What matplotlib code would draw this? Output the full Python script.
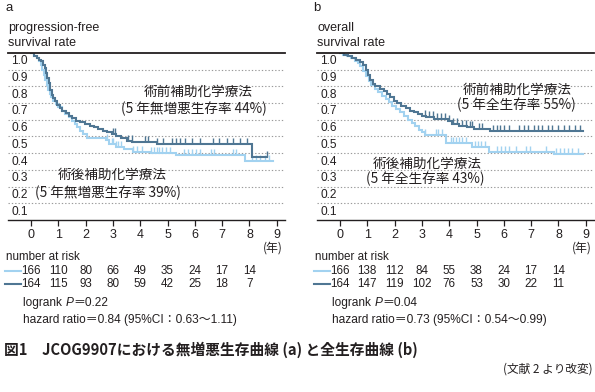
import numpy as np
import matplotlib.pyplot as plt

plt.rcParams["font.family"] = ["Liberation Sans", "Noto Sans CJK JP"]

W, H = 595, 392
LIGHT = "#a2d2f0"
DARK = "#4f7693"
TXT = "#231f20"

years = list(range(10))
ytick_vals = [1.0, 0.9, 0.8, 0.7, 0.6, 0.5, 0.4, 0.3, 0.2, 0.1]

# panel a: progression-free survival
pfs_pre_t = [0, 0.12, 0.22, 0.30, 0.38, 0.45, 0.50, 0.55, 0.60, 0.65, 0.70, 0.76, 0.82,
             0.88, 0.95, 1.05, 1.15, 1.28, 1.40, 1.52, 1.65, 1.80, 1.98, 2.15, 2.30,
             2.47, 2.62, 2.78, 2.95, 3.10, 3.30, 3.50, 3.70, 4.60, 8.08, 8.65]
pfs_pre_s = [1.0, 0.98, 0.97, 0.96, 0.95, 0.93, 0.91, 0.88, 0.85, 0.82, 0.78, 0.75, 0.73,
             0.71, 0.69, 0.67, 0.655, 0.64, 0.625, 0.61, 0.595, 0.585, 0.575, 0.565, 0.555,
             0.545, 0.535, 0.525, 0.515, 0.505, 0.49, 0.475, 0.465, 0.455, 0.38, 0.38]
pfs_pre_cens = [3.02, 3.08, 3.57, 3.69, 4.18, 4.3, 4.6, 4.85, 5.15, 5.3, 5.46, 5.64, 5.88,
                6.19, 6.68, 6.9, 7.17, 7.41, 7.66, 7.9, 8.63]

pfs_post_t = [0, 0.12, 0.22, 0.30, 0.36, 0.42, 0.48, 0.53, 0.58, 0.63, 0.68, 0.75, 0.82,
              0.90, 1.00, 1.12, 1.25, 1.38, 1.50, 1.60, 1.70, 1.80, 1.92, 2.05, 2.75,
              2.85, 3.10, 3.40, 3.75, 4.40, 5.30, 7.83, 8.87]
pfs_post_s = [1.0, 0.98, 0.97, 0.955, 0.93, 0.90, 0.87, 0.84, 0.81, 0.78, 0.755, 0.735,
              0.715, 0.695, 0.675, 0.655, 0.635, 0.615, 0.595, 0.575, 0.555, 0.535, 0.515,
              0.49, 0.48, 0.455, 0.44, 0.425, 0.41, 0.40, 0.39, 0.355, 0.355]
pfs_post_cens = [2.77, 2.95, 3.0, 3.1, 3.2, 3.3, 3.75, 3.9, 4.05, 4.4, 4.5, 4.6, 4.7, 4.8,
                 4.95, 5.1, 5.6, 5.75, 5.9, 6.05, 6.2, 6.6, 6.7, 7.4, 7.5, 8.1, 8.25,
                 8.4, 8.55, 8.7]

# panel b: overall survival
os_pre_t = [0, 0.15, 0.30, 0.45, 0.60, 0.75, 0.85, 0.95, 1.02, 1.10, 1.20, 1.30, 1.45,
            1.60, 1.72, 1.85, 1.98, 2.10, 2.25, 2.40, 2.55, 2.70, 2.85, 3.00, 3.15,
            3.45, 3.95, 4.12, 4.35, 4.65, 4.90, 5.50, 8.88]
os_pre_s = [1.0, 0.99, 0.98, 0.97, 0.96, 0.945, 0.93, 0.90, 0.87, 0.84, 0.815, 0.80,
            0.785, 0.77, 0.755, 0.735, 0.715, 0.70, 0.685, 0.67, 0.655, 0.645, 0.635,
            0.625, 0.615, 0.605, 0.59, 0.575, 0.565, 0.555, 0.545, 0.53, 0.53]
os_pre_cens = [3.1, 3.25, 3.4, 3.55, 3.7, 3.85, 4.0, 4.15, 4.3, 4.45, 4.6, 4.75, 4.85,
               5.1, 5.2, 5.6, 5.75, 5.85, 6.0, 6.2, 6.55, 6.75, 6.9, 7.1, 7.25, 7.4,
               7.6, 7.75, 8.0, 8.2, 8.4, 8.6, 8.8]

os_post_t = [0, 0.10, 0.25, 0.40, 0.55, 0.65, 0.75, 0.85, 0.95, 1.05, 1.15, 1.28, 1.40,
             1.55, 1.68, 1.80, 1.92, 2.05, 2.20, 2.35, 2.50, 2.62, 2.75, 2.88, 3.00,
             3.10, 3.90, 4.85, 5.45, 7.84, 8.90]
os_post_s = [1.0, 0.99, 0.98, 0.97, 0.955, 0.94, 0.92, 0.895, 0.865, 0.835, 0.81, 0.785,
             0.765, 0.745, 0.725, 0.705, 0.685, 0.665, 0.645, 0.625, 0.60, 0.58, 0.56,
             0.54, 0.525, 0.51, 0.46, 0.44, 0.41, 0.395, 0.395]
os_post_cens = [3.12, 3.5, 3.6, 3.75, 4.05, 4.15, 4.25, 4.35, 4.45, 4.6, 4.95, 5.05,
                5.15, 5.3, 5.75, 5.9, 6.05, 6.2, 6.45, 6.8, 6.95, 7.55, 7.9, 8.05, 8.2,
                8.35, 8.5, 8.7]

pfs_risk_post = [166, 110, 80, 66, 49, 35, 24, 17, 14]
pfs_risk_pre = [164, 115, 93, 80, 59, 42, 25, 18, 7]
os_risk_post = [166, 138, 112, 84, 55, 38, 24, 17, 14]
os_risk_pre = [164, 147, 119, 102, 76, 53, 30, 22, 11]


def px(x, y):
    return x / W, 1 - y / H


def km(ax, t, s, cens, color):
    ax.plot(t, s, drawstyle="steps-post", color=color, lw=1.5, solid_joinstyle="miter")
    idx = np.searchsorted(t, cens, side="right") - 1
    ax.plot(cens, np.array(s)[idx], ls="none", marker=2, ms=4.5, mew=1.0, color=color)


def panel(left_px, curves, ylabel, notes):
    ax = fig.add_axes([left_px / W, 1 - 220 / H, 277 / W, 167 / H])
    ax.set_xlim(-0.84, 9.3)
    ax.set_ylim(0, 1.0)
    for sp in ["left", "right"]:
        ax.spines[sp].set_visible(False)
    ax.spines["top"].set_linewidth(1.3)
    ax.spines["bottom"].set_linewidth(1.0)
    ax.spines["top"].set_color(TXT)
    ax.spines["bottom"].set_color(TXT)
    ax.set_yticks([])
    ax.set_xticks(years)
    ax.set_xticklabels([str(y) for y in years])
    ax.tick_params(axis="x", direction="out", length=4.5, width=0.9, pad=2,
                   labelsize=9, colors=TXT)
    for v in ytick_vals[1:]:
        ax.axhline(v, color="#9a9a9a", lw=0.8, ls=(0, (1.2, 1.8)), zorder=0)
    for v in ytick_vals:
        ax.text(-0.72, v - 0.05, f"{v:.1f}", ha="left", va="center", fontsize=8.6,
                color=TXT)
    for t, s, c, col in curves:
        km(ax, t, s, c, col)
    for x, y, txt in notes:
        ax.text(x, y, txt, ha="center", va="center", fontsize=9.8, color=TXT,
                family=["Noto Sans CJK JP"])
    ax.text(8.86, -0.165, "(年)", ha="center", va="center", fontsize=8.6, color=TXT,
            family=["Noto Sans CJK JP"], clip_on=False)
    lines = ylabel.split("\n")
    fig.text(*px(left_px, 28), lines[0], ha="left", va="center", fontsize=9, color=TXT)
    fig.text(*px(left_px, 43), lines[1], ha="left", va="center", fontsize=9, color=TXT)
    return ax


def risk_table(ax, x0_px, risk_post, risk_pre, logrank, hazard):
    fig.text(*px(x0_px - 2, 257), "number at risk", ha="left", va="center",
             fontsize=8.4, color=TXT)
    for row_y, risk, col in [(271, risk_post, LIGHT), (284, risk_pre, DARK)]:
        fig.add_artist(plt.Line2D([(x0_px - 3) / W, (x0_px + 13) / W],
                                  [1 - row_y / H, 1 - row_y / H], color=col, lw=1.5))
        for yr, n in zip(years, risk):
            xd = ax.transData.transform((yr, 0))[0]
            fig.text(xd / fig.dpi / fig.get_figwidth(), 1 - row_y / H, str(n),
                     ha="center", va="center", fontsize=8.4, color=TXT)
    t1 = fig.text(*px(x0_px + 15, 303), "logrank ", ha="left", va="center",
                  fontsize=8.6, color=TXT)
    t2 = plt.annotate("P", xy=(1, 0), xycoords=t1, ha="left", va="bottom",
                      fontsize=8.6, color=TXT, style="italic")
    plt.annotate("＝" + logrank, xy=(1, 0), xycoords=t2, ha="left", va="bottom",
                 fontsize=8.6, color=TXT)
    fig.text(*px(x0_px + 15, 320), "hazard ratio＝" + hazard, ha="left", va="center",
             fontsize=8.6, color=TXT)


fig = plt.figure(figsize=(W / 100, H / 100), dpi=100)

fig.text(*px(5, 8), "a", ha="left", va="center", fontsize=9.5, color=TXT)
fig.text(*px(313, 8), "b", ha="left", va="center", fontsize=9.5, color=TXT)

ax_a = panel(8, [(pfs_post_t, pfs_post_s, pfs_post_cens, LIGHT),
                 (pfs_pre_t, pfs_pre_s, pfs_pre_cens, DARK)],
             "progression-free\nsurvival rate",
             [(6.12, 0.765, "術前補助化学療法"),
              (5.97, 0.665, "(5 年無増悪生存率 44%)"),
              (2.99, 0.27, "術後補助化学療法"),
              (2.82, 0.165, "(5 年無増悪生存率 39%)")])
ax_b = panel(317, [(os_post_t, os_post_s, os_post_cens, LIGHT),
                   (os_pre_t, os_pre_s, os_pre_cens, DARK)],
             "overall\nsurvival rate",
             [(6.5, 0.78, "術前補助化学療法"),
              (6.47, 0.69, "(5 年全生存率 55%)"),
              (3.18, 0.335, "術後補助化学療法"),
              (3.12, 0.245, "(5 年全生存率 43%)")])

risk_table(ax_a, 8, pfs_risk_post, pfs_risk_pre, "0.22", "0.84 (95%CI：0.63～1.11)")
risk_table(ax_b, 317, os_risk_post, os_risk_pre, "0.04", "0.73 (95%CI：0.54～0.99)")

fig.text(*px(4, 350), "図1　JCOG9907における無増悪生存曲線 (a) と全生存曲線 (b)",
         ha="left", va="center", fontsize=10.6, fontweight="bold", color=TXT,
         family=["Noto Sans CJK JP"])
fig.text(*px(593, 369), "(文献 2 より改変)", ha="right", va="center", fontsize=8.4,
         color=TXT, family=["Noto Sans CJK JP"])

fig.savefig("out.png", dpi=100)
